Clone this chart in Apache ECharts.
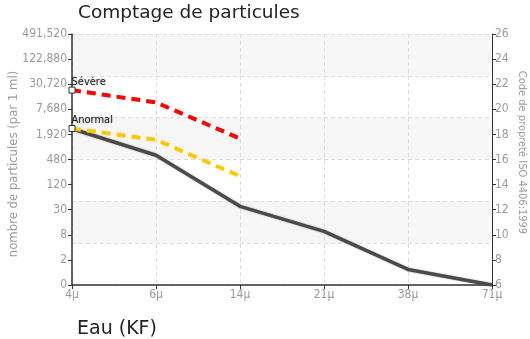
<!DOCTYPE html>
<html>
<head>
<meta charset="utf-8">
<script src="https://cdn.jsdelivr.net/npm/echarts@6/dist/echarts.min.js"></script>
<style>html,body{margin:0;padding:0;background:#fff}#c{width:530px;height:339px}</style>
</head>
<body>
<div id="c"></div>
<script>
var categories = ['4\u03bc', '6\u03bc', '14\u03bc', '21\u03bc', '38\u03bc', '71\u03bc'];
var leftTickLabels = ['0', '2', '8', '30', '120', '480', '1,920', '7,680', '30,720', '122,880', '491,520'];
var severeValues = [21.53, 20.55, 17.67];
var anormalValues = [18.47, 17.57, 14.67];
var measuredValues = [18.45, 16.34, 12.27, 10.27, 7.24, 6.0];
var seriesNames = ['Mesure', 'Anormal', 'Sévère'];

var chart = echarts.init(document.getElementById('c'));
var axisFont = 'DejaVu Sans Condensed';
var gray = '#9a9a9a';

function limitSeries(name, values, color) {
  return {
    name: name, type: 'line', data: values, yAxisIndex: 1,
    lineStyle: { color: color, width: 4, type: [9, 6] },
    symbol: 'rect',
    symbolSize: function (v, p) { return p.dataIndex === 0 ? 6 : 0; },
    itemStyle: { color: '#fff', borderColor: '#333', borderWidth: 1 },
    label: {
      show: true, position: [3, -10], align: 'left',
      fontFamily: axisFont, fontSize: 11, color: '#222',
      textShadowColor: 'rgba(0,0,0,0.35)', textShadowBlur: 2,
      formatter: function (p) { return p.dataIndex === 0 ? name : ''; }
    },
    z: 3, animation: false
  };
}

chart.setOption({
  animation: false,
  title: [
    { text: 'Comptage de particules', left: 78, top: 4, padding: 0,
      textStyle: { fontFamily: 'DejaVu Sans', fontSize: 18.5, fontWeight: 'normal', color: '#222' } },
    { text: 'Eau (KF)', left: 77, top: 320, padding: 0,
      textStyle: { fontFamily: 'DejaVu Sans', fontSize: 19, fontWeight: 'normal', color: '#222' } }
  ],
  grid: { left: 72, right: 38, top: 34, bottom: 54, containLabel: false, outerBoundsMode: 'none' },
  xAxis: {
    type: 'category', data: categories, boundaryGap: false,
    axisLine: { lineStyle: { color: '#333', width: 1.5 } },
    axisTick: { show: true, length: 4, lineStyle: { color: '#333' } },
    axisLabel: { color: gray, fontFamily: axisFont, fontSize: 12, margin: 4 },
    splitLine: { show: true, lineStyle: { color: '#dcdcdc', type: [4, 3] } }
  },
  yAxis: [
    {
      type: 'value', position: 'left', min: 6, max: 26, interval: 2,
      name: 'nombre de particules (par 1 ml)', nameLocation: 'middle', nameGap: 52, nameRotate: 90,
      nameMoveOverlap: false,
      nameTextStyle: { color: gray, fontFamily: axisFont, fontSize: 13, padding: [0, 9, 0, 0] },
      axisLine: { show: true, lineStyle: { color: '#333', width: 1.5 } },
      axisTick: { show: true, length: 4, lineStyle: { color: '#333' } },
      axisLabel: { color: gray, fontFamily: axisFont, fontSize: 12, margin: 5,
        formatter: function (v) { return leftTickLabels[Math.round((v - 6) / 2)]; } },
      splitLine: { show: false }
    },
    {
      type: 'value', position: 'right', min: 6, max: 26, interval: 2,
      name: 'Code de propreté ISO 4406:1999', nameLocation: 'middle', nameGap: 24, nameRotate: -90,
      nameMoveOverlap: false,
      nameTextStyle: { color: gray, fontFamily: axisFont, fontSize: 11, padding: [0, 14, 0, 0] },
      axisLine: { show: true, lineStyle: { color: '#333', width: 1 } },
      axisTick: { show: true, length: 4, lineStyle: { color: '#333' } },
      axisLabel: { color: gray, fontFamily: axisFont, fontSize: 12, margin: 3 },
      splitLine: { show: false }
    },
    {
      type: 'value', position: 'left', min: 0, max: 6, interval: 1,
      axisLine: { show: false }, axisTick: { show: false }, axisLabel: { show: false },
      splitLine: { show: true, lineStyle: { color: '#dcdcdc', type: [4, 3] } },
      splitArea: { show: true, areaStyle: { color: ['rgba(255,255,255,0)', '#f6f6f6'] } }
    }
  ],
  series: [
    {
      name: seriesNames[0], type: 'line', data: measuredValues, yAxisIndex: 1,
      lineStyle: { color: '#4a4a4a', width: 3.5, shadowColor: 'rgba(0,0,0,0.3)', shadowBlur: 2 },
      symbol: 'none', z: 2
    },
    limitSeries(seriesNames[1], anormalValues, '#ffc800'),
    limitSeries(seriesNames[2], severeValues, '#ff0000')
  ]
});
</script>
</body>
</html>
